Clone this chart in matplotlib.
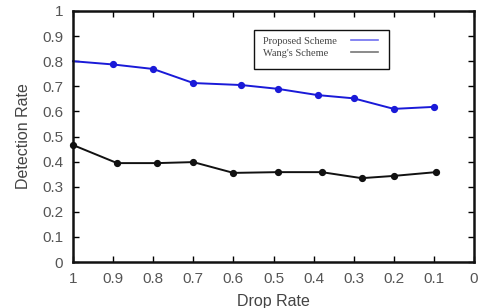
import matplotlib
matplotlib.use("Agg")
import matplotlib.pyplot as plt
from matplotlib.patches import Rectangle

plt.rcParams['font.family'] = ['Liberation Sans', 'DejaVu Sans']

prop_x = [1.0, 0.9, 0.8, 0.7, 0.58, 0.49, 0.39, 0.3, 0.2, 0.1]
prop_y = [0.80, 0.787, 0.769, 0.713, 0.705, 0.69, 0.665, 0.652, 0.61, 0.618]
wang_x = [1.0, 0.89, 0.79, 0.7, 0.6, 0.49, 0.38, 0.28, 0.2, 0.095]
wang_y = [0.466, 0.394, 0.394, 0.398, 0.355, 0.358, 0.358, 0.334, 0.343, 0.358]
series_names = ["Proposed Scheme", "Wang's Scheme"]
xticks = [1, 0.9, 0.8, 0.7, 0.6, 0.5, 0.4, 0.3, 0.2, 0.1, 0]
xticklabels = ["1", "0.9", "0.8", "0.7", "0.6", "0.5", "0.4", "0.3", "0.2", "0.1", "0"]
yticks = [0, 0.1, 0.2, 0.3, 0.4, 0.5, 0.6, 0.7, 0.8, 0.9, 1]
yticklabels = ["0", "0.1", "0.2", "0.3", "0.4", "0.5", "0.6", "0.7", "0.8", "0.9", "1"]

W, H = 480, 308
fig = plt.figure(figsize=(W/100, H/100), dpi=100)
ax = fig.add_axes([73/W, 1 - 262/H, (474-73)/W, (262-11)/H])

ax.plot(prop_x, prop_y, color="#1a1ad8", lw=1.4, marker="o", ms=4.2,
        markevery=list(range(1, len(prop_x))), clip_on=False)
ax.plot(wang_x, wang_y, color="#111111", lw=1.4, marker="o", ms=4.2, clip_on=False)

ax.set_xlim(1, 0)
ax.set_ylim(0, 1)
ax.set_xticks(xticks)
ax.set_xticklabels(xticklabels)
ax.set_yticks(yticks)
ax.set_yticklabels(yticklabels)
ax.tick_params(direction="in", top=True, right=True, length=4, width=1,
               labelsize=11, labelcolor="#555555", pad=7)
for s in ax.spines.values():
    s.set_linewidth(1.8)
    s.set_color("#111111")

ax.set_xlabel("Drop Rate", fontsize=11.5, color="#444444", labelpad=6)
ax.set_ylabel("Detection Rate", fontsize=11.5, color="#444444", labelpad=8)

# legend drawn in figure-pixel coordinates (text left, line sample right)
def fx(px):
    return px / W

def fy(py):
    return 1 - py / H

fig.add_artist(Rectangle((fx(254), fy(69)), fx(389) - fx(254), fy(30) - fy(69),
                         transform=fig.transFigure, fill=True, facecolor="white",
                         edgecolor="#111111", lw=1.0, zorder=5))
leg_colors = ["#7070f0", "#777777"]
for i, (name, c) in enumerate(zip(series_names, leg_colors)):
    yc = 41 + i * 12
    fig.text(fx(263), fy(yc), name, family="Liberation Serif", fontsize=7.5,
             color="#444444", ha="left", va="center", zorder=6)
    fig.add_artist(plt.Line2D([fx(351), fx(378)], [fy(yc - 1), fy(yc - 1)],
                              transform=fig.transFigure, color=c, lw=1.2, zorder=6))

fig.savefig("out.png", dpi=100)
